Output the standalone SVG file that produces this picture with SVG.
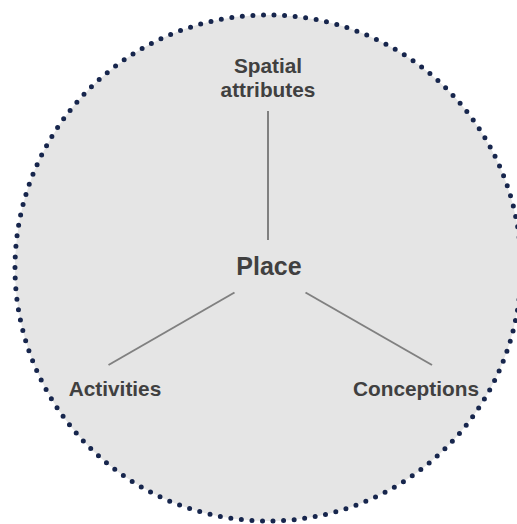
<svg xmlns="http://www.w3.org/2000/svg" width="517" height="524" viewBox="0 0 517 524">
<style>
.lbl{font-family:"Liberation Sans",Arial,Helvetica,sans-serif;font-weight:bold;fill:#404040;text-anchor:middle}
.conn{stroke:#808080;stroke-width:2;fill:none}
</style>
<rect width="517" height="524" fill="#ffffff"/>
<g id="boundary">
<circle cx="268" cy="268" r="253" fill="#e5e5e5" stroke="#17264d" stroke-width="5" stroke-linecap="round" stroke-dasharray="0 10.6"/>
</g>
<g id="connectors">
<line class="conn" x1="268" y1="111" x2="268" y2="240"/>
<line class="conn" x1="234.5" y1="292.5" x2="108.5" y2="365"/>
<line class="conn" x1="305.5" y1="292.5" x2="432" y2="365"/>
</g>
<g id="place"><text class="lbl" x="269" y="275" font-size="25">Place</text></g>
<g id="spatial"><text class="lbl" x="268" y="73" font-size="20.8">Spatial</text><text class="lbl" x="268" y="97" font-size="20.8">attributes</text></g>
<g id="activities"><text class="lbl" x="115" y="396" font-size="20.8">Activities</text></g>
<g id="conceptions"><text class="lbl" x="416" y="396" font-size="20.8">Conceptions</text></g>
</svg>
